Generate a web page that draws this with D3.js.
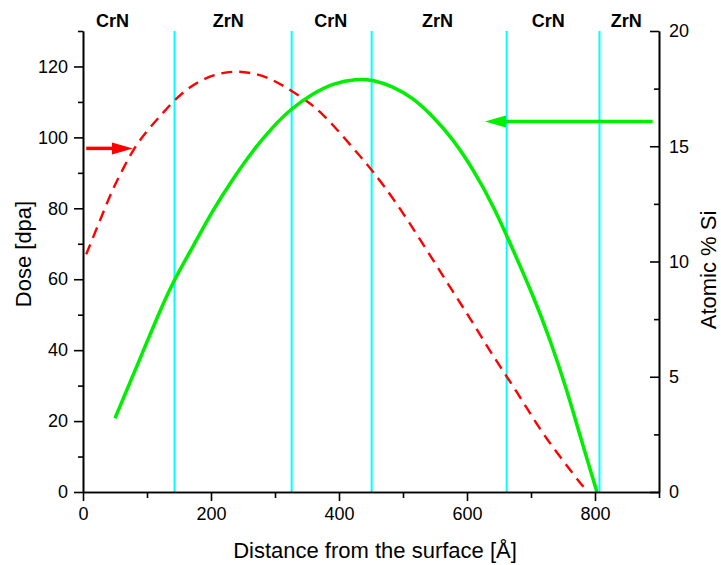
<!DOCTYPE html>
<html>
<head>
<meta charset="utf-8">
<script src="https://cdn.jsdelivr.net/npm/d3@7"></script>
<style>
  body { margin: 0; background: #fff; }
  svg text { font-family: Arial, "Liberation Sans", sans-serif; fill: #000; }
</style>
</head>
<body>
<div id="chart"></div>
<script>
// dose profile, left axis [dpa] (x in Angstrom)
var doseX = [5, 31, 47, 62, 78, 99, 120, 143, 170, 203, 235, 271, 302, 328, 360, 391, 422, 453, 490, 529, 568, 605, 641, 678, 714, 753, 777, 782];
var doseY = [67, 78.6, 85.7, 90.9, 96.5, 101.7, 105.9, 110.6, 114.8, 117.7, 118.8, 118.1, 115.8, 112.9, 109.1, 103.5, 97, 90.5, 81.5, 70.6, 59.3, 49.0, 38.2, 28.3, 17.5, 8.1, 2.5, 1.5];

// Si concentration, right axis [at.%]
var siX = [50, 73, 99, 123, 143, 172, 203, 235, 266, 297, 326, 360, 391, 428, 453, 485, 516, 547, 579, 610, 642, 672, 704, 730, 756, 777, 803];
var siY = [3.2, 4.72, 6.45, 8.04, 9.24, 10.65, 12.24, 13.62, 14.84, 15.86, 16.65, 17.30, 17.74, 17.93, 17.88, 17.59, 17.09, 16.29, 15.28, 13.98, 12.38, 10.50, 8.48, 6.60, 4.43, 2.40, 0];

// layer interfaces and labels
var layerBounds = [143, 326, 451, 662, 807];
var layerNames = ["CrN", "ZrN", "CrN", "ZrN", "CrN", "ZrN"];
var layerLabelX = [46, 227, 387, 554, 727, 849];

// arrows pointing at the axis each curve belongs to
var doseArrow = { x0: 5, x1: 78, y: 96.9 };
var siArrow = { x0: 890, x1: 628, y: 16.07 };

var xTicks = [0, 200, 400, 600, 800];
var doseTicks = [0, 20, 40, 60, 80, 100, 120];
var siTicks = [0, 5, 10, 15, 20];

var width = 721, height = 565;
var margin = { left: 83, right: 62, top: 31, bottom: 73 };

var svg = d3.select("#chart").append("svg")
  .attr("width", width)
  .attr("height", height);

var x = d3.scaleLinear().domain([0, 900]).range([margin.left, width - margin.right]);
var yDose = d3.scaleLinear().domain([0, 130]).range([height - margin.bottom, margin.top]);
var ySi = d3.scaleLinear().domain([0, 20]).range([height - margin.bottom, margin.top]);

// layer boundaries
svg.append("g").selectAll("line")
  .data(layerBounds).enter()
  .append("line")
    .attr("x1", function(d) { return x(d); })
    .attr("x2", function(d) { return x(d); })
    .attr("y1", margin.top)
    .attr("y2", height - margin.bottom)
    .attr("stroke", "#00ffff")
    .attr("stroke-width", 2);

svg.append("g").selectAll("text")
  .data(layerNames).enter()
  .append("text")
    .attr("x", function(d, i) { return x(layerLabelX[i]); })
    .attr("y", 27)
    .attr("text-anchor", "middle")
    .style("font-size", "18px")
    .style("font-weight", "bold")
    .text(function(d) { return d; });

// curves (basis spline smooths out reading noise)
var doseLine = d3.line()
  .x(function(d, i) { return x(doseX[i]); })
  .y(function(d) { return yDose(d); })
  .curve(d3.curveBasis);

var siLine = d3.line()
  .x(function(d, i) { return x(siX[i]); })
  .y(function(d) { return ySi(d); })
  .curve(d3.curveBasis);

svg.append("path")
  .attr("d", doseLine(doseY))
  .attr("fill", "none")
  .attr("stroke", "#ff0000")
  .attr("stroke-width", 2.4)
  .attr("stroke-dasharray", "11,7");

svg.append("path")
  .attr("d", siLine(siY))
  .attr("fill", "none")
  .attr("stroke", "#00ee00")
  .attr("stroke-width", 3.5);

// arrows
var drawArrow = function(x0, x1, yPix, color) {
  var dir = x1 > x0 ? 1 : -1;
  var headLen = 21, headHalf = 6;
  svg.append("line")
    .attr("x1", x0).attr("x2", x1 - dir * headLen + dir * 2)
    .attr("y1", yPix).attr("y2", yPix)
    .attr("stroke", color)
    .attr("stroke-width", 3.5);
  svg.append("path")
    .attr("d", "M" + x1 + "," + yPix +
      "L" + (x1 - dir * headLen) + "," + (yPix - headHalf) +
      "L" + (x1 - dir * headLen) + "," + (yPix + headHalf) + "Z")
    .attr("fill", color);
};
drawArrow(x(doseArrow.x0), x(doseArrow.x1), yDose(doseArrow.y), "#ff0000");
drawArrow(x(siArrow.x0), x(siArrow.x1), ySi(siArrow.y), "#00ee00");

// axes
var styleAxis = function(g) {
  g.select(".domain").attr("stroke", "#000").attr("stroke-width", 1.6);
  g.selectAll(".tick line").attr("stroke", "#000").attr("stroke-width", 1.6);
  g.selectAll(".tick text").style("font-size", "18px");
};

var minorX = d3.range(100, 901, 200);
var minorDose = d3.range(10, 131, 20);
var minorSi = d3.range(2.5, 20, 5);

svg.append("g")
  .attr("transform", "translate(0," + (height - margin.bottom) + ")")
  .call(d3.axisBottom(x).tickValues(minorX).tickSize(6).tickSizeOuter(0).tickFormat(""))
  .call(styleAxis);
svg.append("g")
  .attr("transform", "translate(0," + (height - margin.bottom) + ")")
  .call(d3.axisBottom(x).tickValues(xTicks).tickSize(9).tickSizeOuter(0).tickPadding(6))
  .call(styleAxis);

svg.append("g")
  .attr("transform", "translate(" + margin.left + ",0)")
  .call(d3.axisLeft(yDose).tickValues(minorDose).tickSize(5).tickSizeOuter(0).tickFormat(""))
  .call(styleAxis);
svg.append("g")
  .attr("transform", "translate(" + margin.left + ",0)")
  .call(d3.axisLeft(yDose).tickValues(doseTicks).tickSize(9).tickSizeOuter(0).tickPadding(6))
  .call(styleAxis);

svg.append("g")
  .attr("transform", "translate(" + (width - margin.right) + ",0)")
  .call(d3.axisRight(ySi).tickValues(minorSi).tickSize(-5).tickSizeOuter(0).tickFormat(""))
  .call(styleAxis);
svg.append("g")
  .attr("transform", "translate(" + (width - margin.right) + ",0)")
  .call(d3.axisRight(ySi).tickValues(siTicks).tickSize(-9).tickSizeOuter(0).tickPadding(10))
  .call(styleAxis);

// axis titles
svg.append("text")
  .attr("x", (margin.left + width - margin.right) / 2 + 4)
  .attr("y", 558)
  .attr("text-anchor", "middle")
  .style("font-size", "22px")
  .text("Distance from the surface [Å]");

svg.append("text")
  .attr("transform", "translate(31,254) rotate(-90)")
  .attr("text-anchor", "middle")
  .style("font-size", "22px")
  .text("Dose [dpa]");

svg.append("text")
  .attr("transform", "translate(716,270) rotate(-90)")
  .attr("text-anchor", "middle")
  .style("font-size", "22px")
  .text("Atomic % Si");
</script>
</body>
</html>
